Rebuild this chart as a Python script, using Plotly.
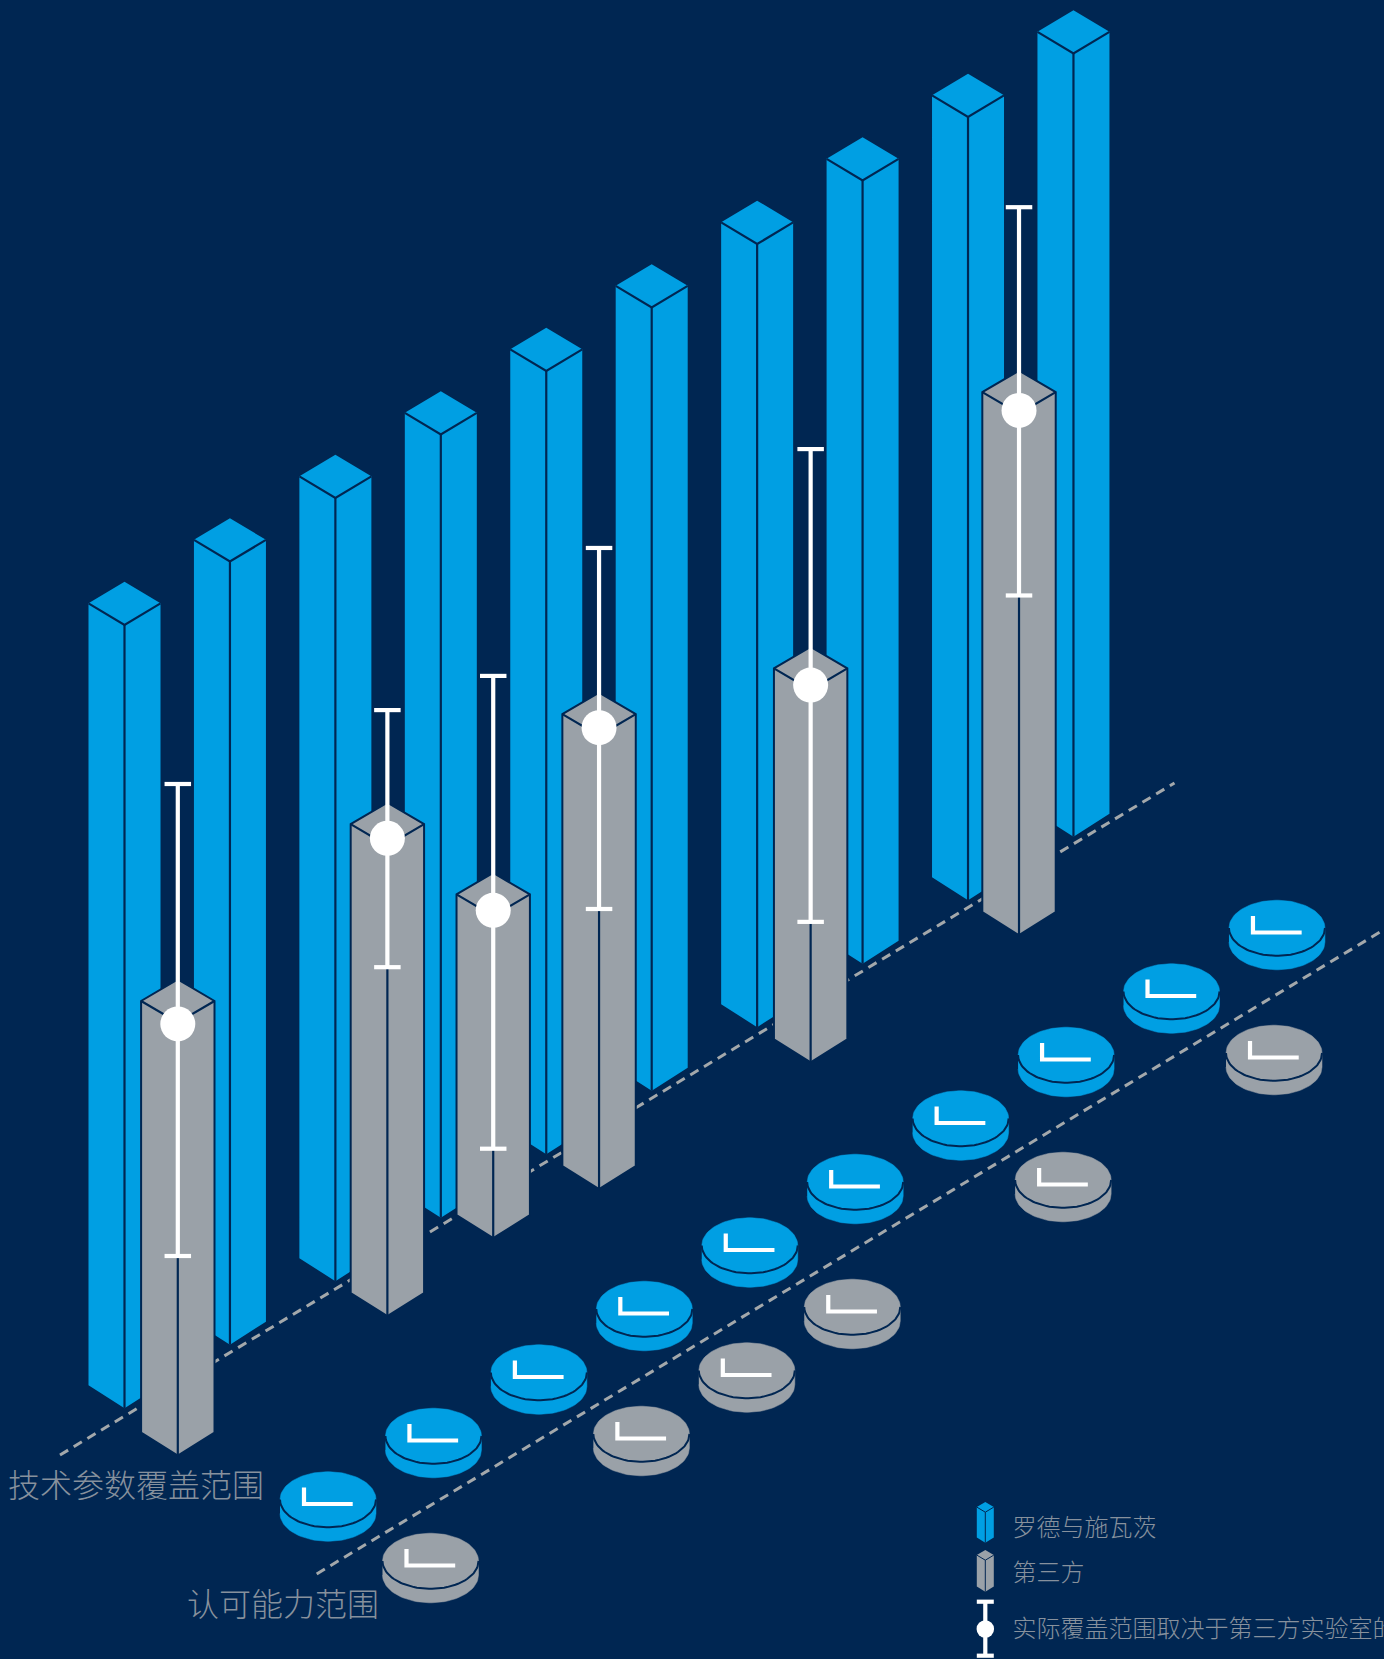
import numpy as np
import plotly.graph_objects as go

# ---------- data (values on a 0-100 scale) ----------
categories = [1, 2, 3, 4, 5, 6, 7, 8, 9, 10]
blue_values = [99.7, 99.7, 99.7, 99.7, 99.7, 99.7, 99.7, 99.7, 99.7, 99.7]
gray_categories = [1, 3, 4, 5, 7, 9]
gray_values = [55.14, 59.89, 41.02, 57.73, 47.42, 66.40]
range_high = [85.5, 77.15, 71.57, 81.62, 78.08, 92.68]
range_mid = [54.96, 60.83, 41.73, 58.74, 48.03, 66.81]
range_low = [25.41, 44.42, 11.38, 35.66, 17.89, 43.25]
label_tech = "技术参数覆盖范围"
label_cert = "认可能力范围"
legend_labels = ["罗德与施瓦茨", "第三方", "实际覆盖范围取决于第三方实验室的"]

# ---------- style / projection ----------
W, H = 1384, 1659
BG, BLUE, GRAY, DASH = "#002652", "#009fe3", "#9aa1a8", "#a3a8ab"
TEXT = "#87919d"
FONT = "Noto Sans CJK SC"
X0, Y0 = 124.5, 1408.2     # front foot of the first bar
STEP_X, STEP_Y = 105.44, -63.5
UNIT = 7.855               # pixels per value unit
GRAY_SHIFT_X = [53.3, 52.0, 52.4, 52.8, 53.5, 51.0]
GRAY_SHIFT_Y = [47.4, 34.9, 20.4, 34.9, 35.2, 35.0]
DISK_Y0 = 1499.5
DISK_X0 = 328.0
GRAY_DISK_DX, GRAY_DISK_DY = 102.5, 61.5


def px(c):
    return X0 + (c - 1) * STEP_X


def py(c):
    return Y0 + (c - 1) * STEP_Y


def bar_paths(items, hw, dh, dh_foot):
    """items: (x, foot_y, height_px). Returns outline and inner edge paths."""
    ox, oy, ex, ey = [], [], [], []
    for x, foot, h in items:
        front = foot - h
        ox += [x, x + hw, x + hw, x, x - hw, x - hw, x, None]
        oy += [front - 2 * dh, front - dh, foot - dh_foot, foot, foot - dh_foot, front - dh, front - 2 * dh, None]
        ex += [x - hw, x, x + hw, None, x, x, None]
        ey += [front - dh, front, front - dh, None, front, foot, None]
    return ox, oy, ex, ey


def add_bars(fig, items, hw, dh, dh_foot, color, outline, lw):
    ox, oy, ex, ey = bar_paths(items, hw, dh, dh_foot)
    fig.add_trace(go.Scatter(x=ox, y=oy, mode="lines", fill="toself", fillcolor=color,
                             line=dict(color=BG if outline else color, width=outline),
                             hoverinfo="skip", showlegend=False))
    fig.add_trace(go.Scatter(x=ex, y=ey, mode="lines", line=dict(color=BG, width=lw),
                             hoverinfo="skip", showlegend=False))


def add_disks(fig, centers, color):
    rx, ry, th = 48.0, 27.8, 14.0
    t1 = np.linspace(np.pi, 2 * np.pi, 50)   # top half (y reversed)
    t2 = np.linspace(0, np.pi, 50)           # lower half
    bx, by, ax, ay, lx, ly = [], [], [], [], [], []
    for cx, cy in centers:
        bx += list(cx + rx * np.cos(t1)) + list(cx + rx * np.cos(t2)) + [None]
        by += list(cy + ry * np.sin(t1)) + list(cy + th + ry * np.sin(t2)) + [None]
        ax += list(cx + rx * np.cos(t2)) + [None]
        ay += list(cy + ry * np.sin(t2)) + [None]
        lx += [cx - 24, cx - 24, cx + 24.7, None]
        ly += [cy - 12, cy + 4.5, cy + 4.5, None]
    fig.add_trace(go.Scatter(x=bx, y=by, mode="lines", fill="toself", fillcolor=color,
                             line=dict(color=color, width=0.5), hoverinfo="skip", showlegend=False))
    fig.add_trace(go.Scatter(x=ax, y=ay, mode="lines", line=dict(color=BG, width=2),
                             hoverinfo="skip", showlegend=False))
    fig.add_trace(go.Scatter(x=lx, y=ly, mode="lines", line=dict(color="white", width=4.2),
                             hoverinfo="skip", showlegend=False))


def whiskers(fig, xs, hi, mid, lo, cap, lw, dot):
    wx, wy = [], []
    for x, a, b in zip(xs, hi, lo):
        wx += [x, x, None, x - cap / 2, x + cap / 2, None, x - cap / 2, x + cap / 2, None]
        wy += [a, b, None, a, a, None, b, b, None]
    fig.add_trace(go.Scatter(x=wx, y=wy, mode="lines", line=dict(color="white", width=lw),
                             hoverinfo="skip", showlegend=False))
    fig.add_trace(go.Scatter(x=xs, y=mid, mode="markers",
                             marker=dict(color="white", size=dot, line=dict(width=0)),
                             hoverinfo="skip", showlegend=False))


def label(fig, x, y, text, size):
    fig.add_trace(go.Scatter(x=[x], y=[y], mode="text", text=[text], textposition="middle right",
                             textfont=dict(family=FONT, size=size, color=TEXT, weight=300),
                             hoverinfo="skip", showlegend=False))


fig = go.Figure()

# dashed guide lines
fig.add_trace(go.Scatter(x=[60, 1174.5], y=[1455, 783], mode="lines",
                         line=dict(color=DASH, width=3, dash="9.5px,6.5px"),
                         hoverinfo="skip", showlegend=False))
fig.add_trace(go.Scatter(x=[316.7, 1390], y=[1574, 926], mode="lines",
                         line=dict(color=DASH, width=3, dash="9.5px,6.5px"),
                         hoverinfo="skip", showlegend=False))

# disks
add_disks(fig, [(DISK_X0 + (c - 1) * STEP_X, DISK_Y0 + (c - 1) * STEP_Y) for c in categories], BLUE)
add_disks(fig, [(DISK_X0 + GRAY_DISK_DX + (c - 1) * STEP_X, DISK_Y0 + GRAY_DISK_DY + (c - 1) * STEP_Y)
                for c in gray_categories], GRAY)

# blue bars
add_bars(fig, [(px(c), py(c), v * UNIT) for c, v in zip(categories, blue_values)],
         36.0, 21.7, 23.0, BLUE, 0, 2.2)

# gray bars
gx = [px(c) + s for c, s in zip(gray_categories, GRAY_SHIFT_X)]
gfoot = [py(c) + s for c, s in zip(gray_categories, GRAY_SHIFT_Y)]
add_bars(fig, [(x, f, v * UNIT) for x, f, v in zip(gx, gfoot, gray_values)],
         36.7, 21.5, 23.0, GRAY, 2, 2.2)

# range whiskers
whiskers(fig, gx,
         [f - v * UNIT for f, v in zip(gfoot, range_high)],
         [f - v * UNIT for f, v in zip(gfoot, range_mid)],
         [f - v * UNIT for f, v in zip(gfoot, range_low)], 26.5, 4.2, 35)

# axis titles
label(fig, 8, 1489, label_tech, 32)
label(fig, 187, 1608, label_cert, 32)

# legend
add_bars(fig, [(985.3, 1542.7, 30.5)], 8.5, 5.1, 5.1, BLUE, 0, 1)
add_bars(fig, [(985.3, 1591.7, 31.5)], 8.5, 5.1, 5.1, GRAY, 0, 1)
whiskers(fig, [985.3], [1601.7], [1629], [1655.7], 17, 4.2, 17.5)
label(fig, 1012.5, 1530, legend_labels[0], 24)
label(fig, 1012.5, 1575, legend_labels[1], 24)
label(fig, 1012.5, 1631, legend_labels[2], 24)

fig.update_layout(
    width=W, height=H, margin=dict(l=0, r=0, t=0, b=0),
    paper_bgcolor=BG, plot_bgcolor=BG, showlegend=False,
    xaxis=dict(range=[0, W], visible=False, fixedrange=True),
    yaxis=dict(range=[H, 0], visible=False, fixedrange=True),
)
fig.write_html("out.html", config=dict(displayModeBar=False),
               post_script="document.body.style.margin='0';document.body.style.overflow='hidden';document.body.style.background='%s';" % BG)
